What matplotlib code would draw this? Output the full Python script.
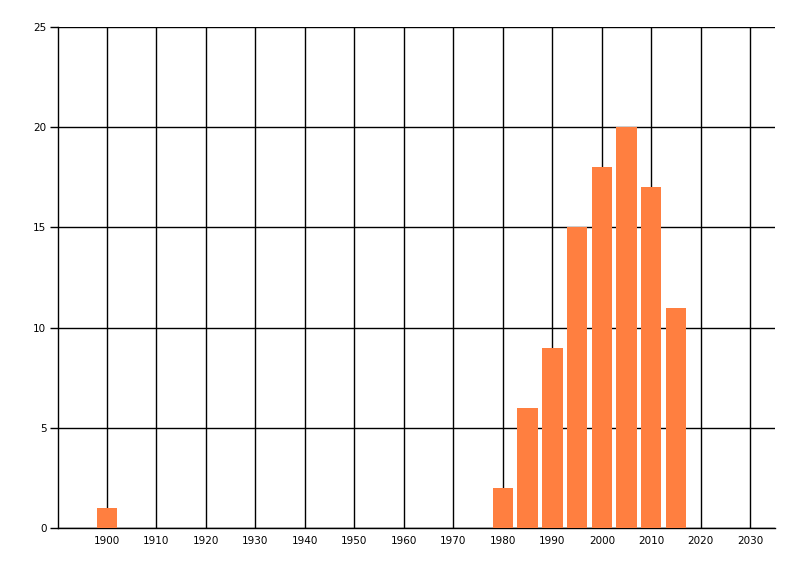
import matplotlib.pyplot as plt
import numpy as np

years = [1900, 1980, 1985, 1990, 1995, 2000, 2005, 2010, 2015]
counts = [1, 2, 6, 9, 15, 18, 20, 17, 11]
xticks = list(range(1900, 2031, 10))
yticks = [0, 5, 10, 15, 20, 25]

fig = plt.figure(figsize=(8, 5.76), dpi=100)
ax = fig.add_axes([0.0719, 0.0833, 0.8969, 0.8698])

ax.bar(years, counts, width=4.1, color='#FF7F40', zorder=3)

ax.set_xlim(1890, 2035)
ax.set_ylim(0, 25)
ax.set_xticks(xticks, labels=[str(t) for t in xticks])
ax.set_yticks(yticks, labels=[str(t) for t in yticks])
ax.grid(True, color='black', linewidth=1)
ax.set_axisbelow(True)

for s in ['top', 'right']:
    ax.spines[s].set_visible(False)
ax.spines['left'].set_linewidth(1)
ax.spines['bottom'].set_linewidth(1)

ax.tick_params(axis='x', length=0, pad=6, labelsize=7.5)
ax.tick_params(axis='y', length=6, width=1, pad=2, labelsize=7.5)

fig.savefig('out.png', dpi=100)
